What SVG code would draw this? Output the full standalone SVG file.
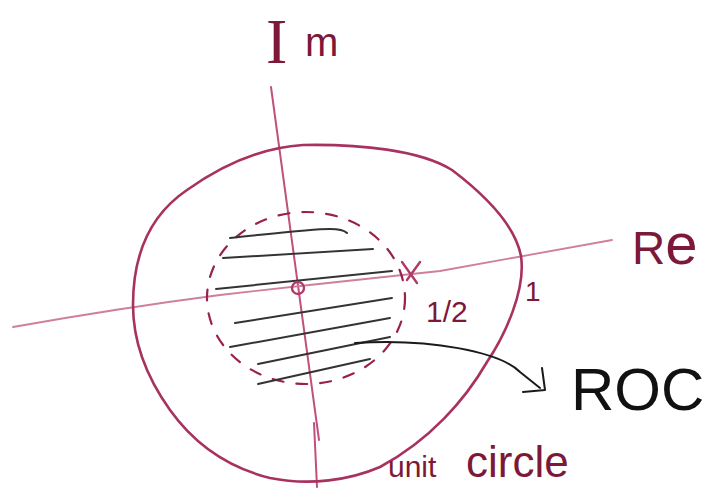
<svg xmlns="http://www.w3.org/2000/svg" width="711" height="491" viewBox="0 0 711 491">
<defs>
<style>
.axis{fill:none;stroke:#c0507c;stroke-width:2;stroke-linecap:round}
.axisfaint{fill:none;stroke:#cf7f9d;stroke-width:1.8;stroke-linecap:round}
.circ{fill:none;stroke:#a8325f;stroke-width:2.6;stroke-linecap:round;stroke-linejoin:round}
.dash{fill:none;stroke:#9a2050;stroke-width:2.2;stroke-dasharray:11 13;stroke-linecap:round}
.hatch{fill:none;stroke:#333333;stroke-width:2;stroke-linecap:round}
.mark{fill:none;stroke:#b03a68;stroke-width:2.4;stroke-linecap:round}
.conn{fill:none;stroke:#1a1a1a;stroke-width:2;stroke-linecap:round;stroke-linejoin:round}
.lbl{fill:#7d1838;font-family:"Liberation Sans",Arial,sans-serif}
.lbls{fill:#7d1838;font-family:"Liberation Serif","Times New Roman",serif}
.roc{fill:#111;font-family:"Liberation Sans",Arial,sans-serif}
</style>
</defs>
<rect width="711" height="491" fill="#ffffff"/>

<g id="axes">
<path class="axis" d="M271,87 L319,440"/>
<path class="axis" d="M314,423 L317,487"/>
<path class="axisfaint" d="M13,327 Q120,308 220,295 L300,286 L440,271 L612,240"/>
</g>

<g id="unit-circle">
<path class="circ" d="M303,145 C360,144 420,150 452,170 C485,195 515,225 521,256 C526,290 505,335 487,362 C465,400 430,440 380,467 C350,480 310,486 270,478 C230,468 195,445 170,410 C145,375 133,340 133,305 C133,255 150,215 187,190 C215,170 255,148 303,145 Z"/>
</g>

<g id="roc-region">
<ellipse class="dash" cx="306" cy="298" rx="99" ry="86"/>
<path class="hatch" d="M230,238 C270,234 310,229 330,229 C340,229 345,231 347,233"/>
<path class="hatch" d="M223,258 L373,249"/>
<path class="hatch" d="M216,289 L392,271"/>
<path class="hatch" d="M235,323 L392,298"/>
<path class="hatch" d="M230,347 L390,318"/>
<path class="hatch" d="M258,364 L390,337"/>
<path class="hatch" d="M258,384 L370,359"/>
</g>

<g id="origin">
<circle class="mark" cx="298" cy="288" r="6"/>
</g>

<g id="pole">
<path class="mark" d="M402,262 L417,283 M420,262 L407,280"/>
</g>

<g id="labels">
<text class="lbls" x="266" y="63" font-size="64">I</text>
<text class="lbl" x="305" y="56" font-size="40">m</text>
<text class="lbl" x="632" y="264" font-size="46">R<tspan font-size="58">e</tspan></text>
<text class="lbl" x="525" y="301" font-size="28">1</text>
<text class="lbl" x="426" y="322" font-size="30">1/2</text>
<text class="lbl" x="388" y="477" font-size="30">unit <tspan x="466" font-size="44">circle</tspan></text>
<text class="roc" x="571" y="410" font-size="60">ROC</text>
</g>

<g id="connectors">
<path class="conn" d="M355,343 C430,338 500,352 520,372 L540,388"/>
<path class="conn" d="M523,392 L545,390 L542,368"/>
</g>
</svg>
